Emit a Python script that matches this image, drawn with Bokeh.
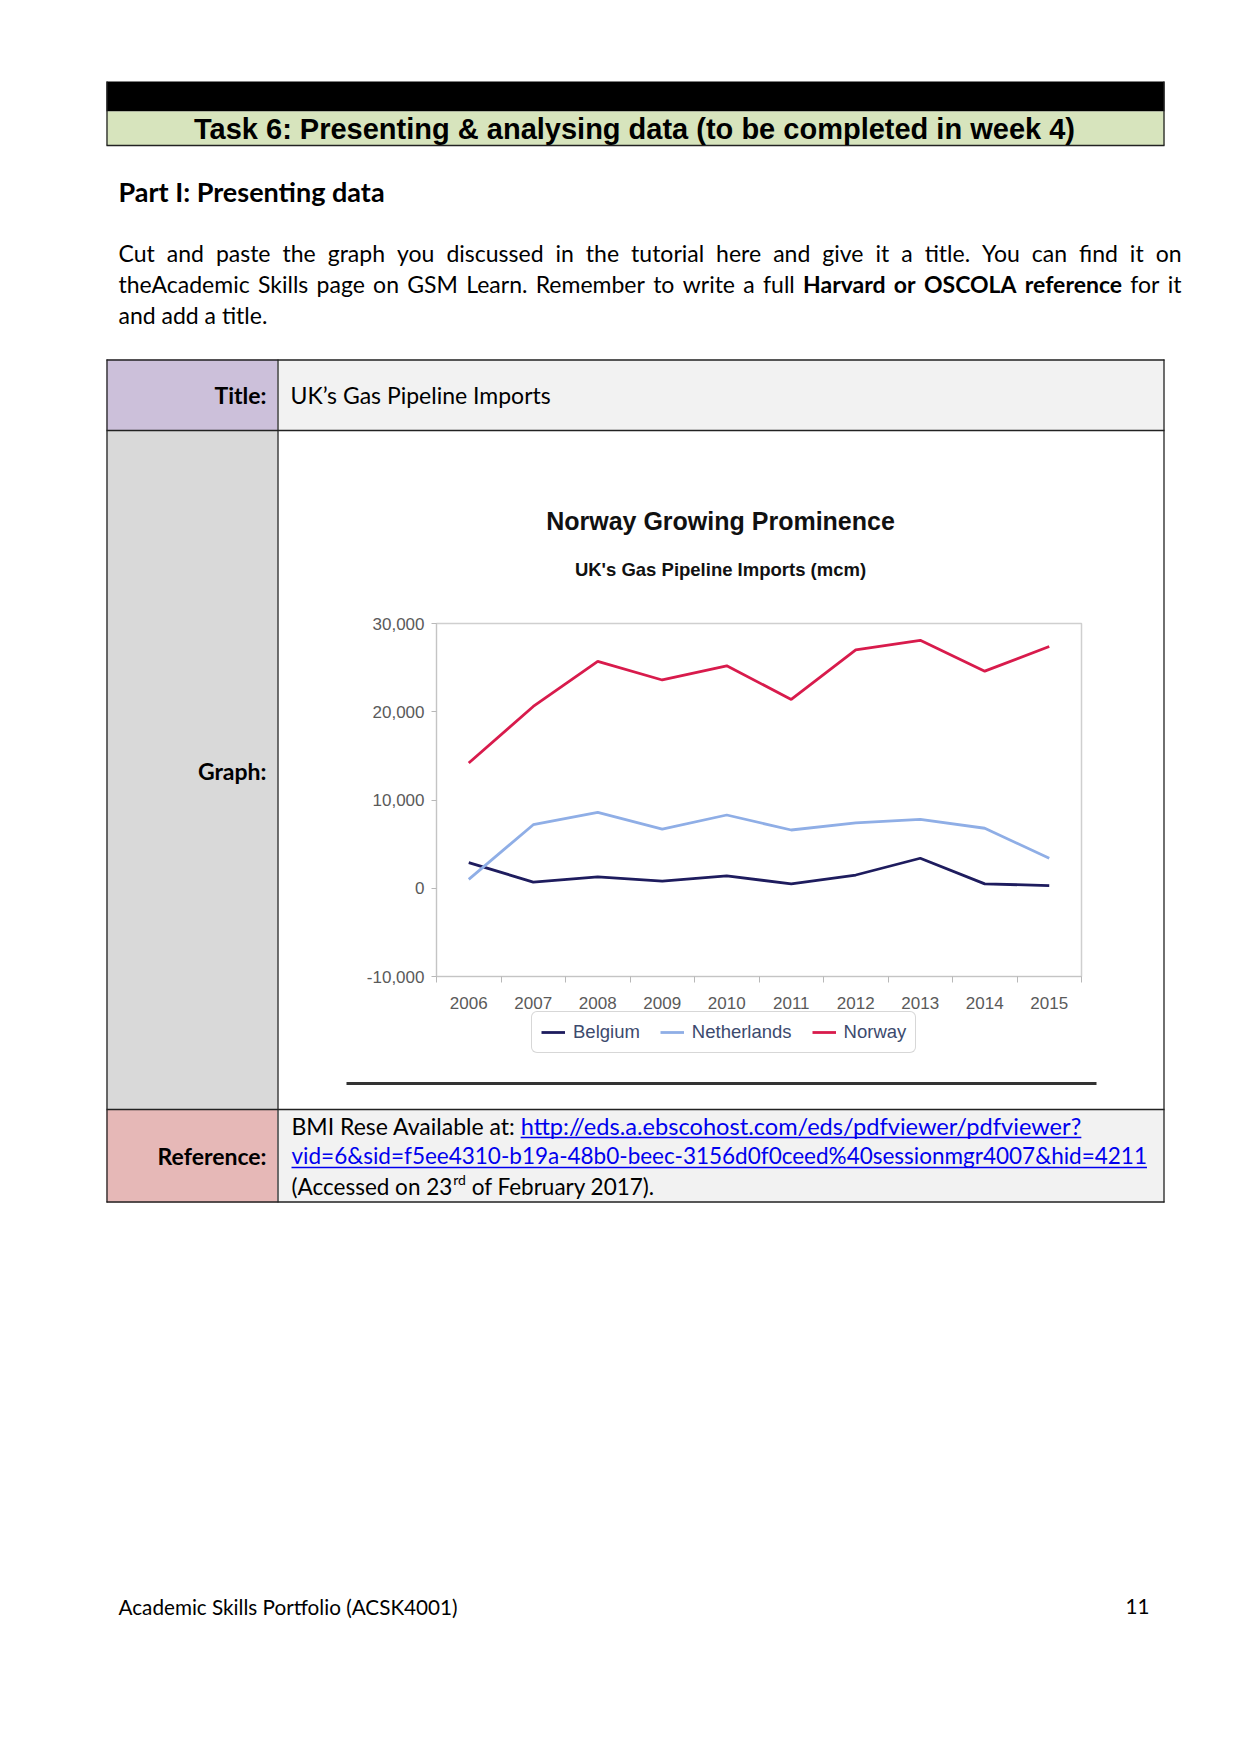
import glob
import os
from bokeh.plotting import figure
from bokeh.models import (Range1d, FixedTicker, NumeralTickFormatter, Legend,
                          LegendItem, LinearAxis)
from bokeh.core.properties import value
from bokeh.embed import file_html
from bokeh.resources import INLINE

# ---------------- chart data ----------------
years = [2006, 2007, 2008, 2009, 2010, 2011, 2012, 2013, 2014, 2015]
belgium = [2900, 700, 1300, 800, 1400, 500, 1500, 3400, 500, 300]
netherlands = [1000, 7200, 8600, 6700, 8300, 6600, 7400, 7800, 6800, 3400]
norway = [14200, 20600, 25700, 23600, 25200, 21400, 27000, 28100, 24600, 27400]
series_names = ["Belgium", "Netherlands", "Norway"]
series_colors = ["#1E1C5E", "#8FAEE6", "#D81B4C"]
y_ticks = [-10000, 0, 10000, 20000, 30000]
chart_title = "Norway Growing Prominence"
chart_subtitle = "UK's Gas Pipeline Imports (mcm)"

# ---------------- page texts ----------------
header = "Task 6: Presenting & analysing data (to be completed in week 4)"
part_heading = "Part I: Presenting data"
para_line1 = "Cut and paste the graph you discussed in the tutorial here and give it a title. You can find it on"
para_line2 = [("theAcademic Skills page on GSM Learn. Remember to write a full", False),
              ("Harvard or OSCOLA reference", True), ("for it", False)]
para_line3 = "and add a title."
row_labels = ["Title:", "Graph:", "Reference:"]
title_value = "UK\u2019s Gas Pipeline Imports"
ref_prefix = "BMI Rese Available at: "
ref_link1 = "http://eds.a.ebscohost.com/eds/pdfviewer/pdfviewer?"
ref_link2 = "vid=6&sid=f5ee4310-b19a-48b0-beec-3156d0f0ceed%40sessionmgr4007&hid=4211"
ref_access = ["(Accessed on 23", "rd", "of February 2017)."]
footer_left = "Academic Skills Portfolio (ACSK4001)"
footer_right = "11"

BODY = "Lato"
ARIAL = "Liberation Sans"
BORDER = "#222222"
C_LAV, C_GRAY, C_PINK, C_CELL, C_GREEN = "#CCC0DA", "#D9D9D9", "#E6B8B7", "#F2F2F2", "#D7E4BD"
LINK = "#0000EE"

PAGE_W, PAGE_H = 1241, 1700
FRAME_L, FRAME_R, FRAME_T, FRAME_B = 436, 1081, 623, 976   # chart plot area on the page
TX0, TX1, TXL = 106, 1164, 277
P_L, P_R = 118, 1181
BODY_PX = 23
REF_PX = 22.5


# ---------------- text measuring (for justification) ----------------
def find_font(name):
    for d in ["/usr/share/fonts", "/usr/local/share/fonts",
              os.path.expanduser("~/.fonts"), os.path.expanduser("~/.local/share/fonts")]:
        hits = glob.glob(os.path.join(d, "**", name), recursive=True)
        if hits:
            return hits[0]
    return None


_fonts = {}
try:
    from PIL import ImageFont
    for key, fname in (("r", "Lato-Regular.ttf"), ("b", "Lato-Bold.ttf")):
        path = find_font(fname)
        if path:
            _fonts[key] = ImageFont.truetype(path, 100)
except Exception:
    _fonts = {}


def measure(s, size, bold=False):
    f = _fonts.get("b" if bold else "r")
    if f is not None:
        return f.getlength(s) * size / 100.0
    return len(s) * size * (0.53 if bold else 0.5)


# ---------------- one page-sized figure ----------------
p = figure(width=PAGE_W, height=PAGE_H, x_range=Range1d(0, PAGE_W),
           y_range=Range1d(PAGE_H, 0), output_backend="svg", toolbar_location=None,
           tools="", min_border=0, x_axis_type=None, y_axis_type=None)
p.grid.visible = False
p.outline_line_color = None
p.background_fill_color = "white"
p.border_fill_color = "white"

# chart scales: data ranges stretched so that the chart's own ranges land on its plot area
x_lo, x_hi = years[0] - 0.5, years[-1] + 0.5
y_lo, y_hi = y_ticks[0], y_ticks[-1]
ux = (x_hi - x_lo) / (FRAME_R - FRAME_L)
uy = (y_hi - y_lo) / (FRAME_B - FRAME_T)
p.extra_x_ranges = {"cx": Range1d(x_lo - FRAME_L * ux, x_hi + (PAGE_W - FRAME_R) * ux)}
p.extra_y_ranges = {"cy": Range1d(y_lo - (PAGE_H - FRAME_B) * uy, y_hi + FRAME_T * uy)}


def box(l, r, t, b, color):
    p.quad(left=[l], right=[r], top=[t], bottom=[b], fill_color=color, line_color=None)


def hline(x0, x1, y, color=BORDER, w=1.3):
    p.segment(x0=[x0], y0=[y], x1=[x1], y1=[y], line_color=color, line_width=w)


def vline(x, y0, y1, color=BORDER, w=1.3):
    p.segment(x0=[x], y0=[y0], x1=[x], y1=[y1], line_color=color, line_width=w)


def txt(x, y, s, size=BODY_PX, bold=False, color="#000000", align="left", font=BODY):
    p.text(x=[x], y=[y], text=[s], text_font=value(font), text_font_size=f"{size}px",
           text_font_style="bold" if bold else "normal", text_color=color,
           text_align=align, text_baseline="middle")


def justify(words, y, size=BODY_PX):
    widths = [measure(w, size, b) for w, b in words]
    gap = (P_R - P_L - sum(widths)) / (len(words) - 1)
    x = P_L
    for (w, b), wd in zip(words, widths):
        txt(x, y, w, size=size, bold=b)
        x += wd + gap


# ---------------- header ----------------
box(TX0, TX1, 81, 111, "#000000")
box(TX0, TX1, 111, 145, C_GREEN)
hline(TX0, TX1, 145)
vline(TX0 + 0.5, 81, 145)
vline(TX1 - 0.5, 81, 145)
txt(634, 128, header, size=29, bold=True, align="center", font=ARIAL)
txt(P_L, 191, part_heading, size=27, bold=True)

# ---------------- paragraph ----------------
justify([(w, False) for w in para_line1.split()], 252)
line2 = []
for chunk, b in para_line2:
    line2 += [(w, b) for w in chunk.split()]
justify(line2, 283)
txt(P_L, 314, para_line3)

# ---------------- table ----------------
box(TX0, TXL, 359, 430, C_LAV)
box(TXL, TX1, 359, 430, C_CELL)
box(TX0, TXL, 430, 1109, C_GRAY)
box(TX0, TXL, 1109, 1202, C_PINK)
box(TXL, TX1, 1109, 1202, C_CELL)
for yy in (359.5, 430, 1109, 1201.5):
    hline(TX0, TX1, yy)
for xx in (TX0 + 0.5, TXL + 0.5, TX1 - 0.5):
    vline(xx, 359, 1202)
txt(266, 394, row_labels[0], bold=True, align="right")
txt(290, 394, title_value)
txt(266, 770, row_labels[1], bold=True, align="right")
txt(266, 1155, row_labels[2], bold=True, align="right")

# chart titles and the rule under the pasted chart
txt(720, 520, chart_title, size=25, bold=True, align="center", font=ARIAL, color="#111111")
txt(720, 569, chart_subtitle, size=18.5, bold=True, align="center", font=ARIAL, color="#111111")
hline(346, 1096, 1083, color="#333333", w=3)

# reference cell
RX = 291
txt(RX, 1125, ref_prefix, size=BODY_PX)
lx = RX + measure(ref_prefix, BODY_PX)
L1PX = 23.6
txt(lx, 1125, ref_link1, size=L1PX, color=LINK)
hline(lx, lx + measure(ref_link1, L1PX), 1137, color=LINK, w=1.3)
txt(RX, 1155, ref_link2, size=REF_PX, color=LINK)
hline(RX, RX + measure(ref_link2, REF_PX), 1167, color=LINK, w=1.3)
txt(RX, 1186, ref_access[0], size=REF_PX)
sx = RX + measure(ref_access[0], REF_PX) + 1
txt(sx, 1179, ref_access[1], size=14)
txt(sx + measure(ref_access[1], 14) + measure(" ", REF_PX), 1186, ref_access[2], size=REF_PX)

# footer
txt(P_L, 1606, footer_left, size=20.7)
txt(1149, 1606, footer_right, size=20.7, align="right")

# ---------------- chart ----------------
p.quad(left=[x_lo], right=[x_hi], bottom=[y_lo], top=[y_hi], fill_color="white",
       line_color="#cfcfcf", line_width=1.5, x_range_name="cx", y_range_name="cy")

renderers = []
for name, vals, col in zip(series_names, [belgium, netherlands, norway], series_colors):
    r = p.line(years, vals, line_color=col, line_width=2.8,
               x_range_name="cx", y_range_name="cy")
    renderers.append((name, r))

xa = LinearAxis(x_range_name="cx", y_range_name="cy", fixed_location=y_lo,
                bounds=(x_lo, x_hi))
xa.ticker = FixedTicker(ticks=years, minor_ticks=[y - 0.5 for y in years] + [x_hi])
xa.major_label_overrides = {y: str(y) for y in years}
xa.major_tick_out = 0
xa.major_tick_in = 0
xa.minor_tick_out = 6
xa.minor_tick_in = 0
xa.minor_tick_line_color = "#b8b8b8"
xa.axis_line_color = "#c4c4c4"
xa.major_label_text_font = ARIAL
xa.major_label_text_font_size = "17px"
xa.major_label_text_color = "#5a5a5a"
xa.major_label_standoff = 14
p.add_layout(xa, "below")

ya = LinearAxis(x_range_name="cx", y_range_name="cy", fixed_location=x_lo,
                bounds=(y_lo, y_hi))
ya.ticker = FixedTicker(ticks=y_ticks)
ya.formatter = NumeralTickFormatter(format="0,0")
ya.major_tick_out = 5
ya.major_tick_in = 0
ya.minor_tick_line_color = None
ya.major_tick_line_color = "#b8b8b8"
ya.axis_line_color = "#c4c4c4"
ya.major_label_text_font = ARIAL
ya.major_label_text_font_size = "17px"
ya.major_label_text_color = "#5a5a5a"
ya.major_label_standoff = 7
p.add_layout(ya, "left")

legend = Legend(items=[LegendItem(label=n, renderers=[r]) for n, r in renderers],
                orientation="horizontal", location=(531, PAGE_H - 1053), margin=0,
                label_text_font=ARIAL, label_text_font_size="18.5px",
                label_text_color="#3C4A6E", glyph_width=24, glyph_height=16,
                label_standoff=8, spacing=20, padding=9,
                border_line_color="#b0b0b0", border_line_width=1.5,
                background_fill_color="white", background_fill_alpha=1.0)
if "border_radius" in Legend.properties():
    legend.border_radius = 6
p.add_layout(legend, "center")

open("out.html", "w").write(file_html(p, INLINE))
